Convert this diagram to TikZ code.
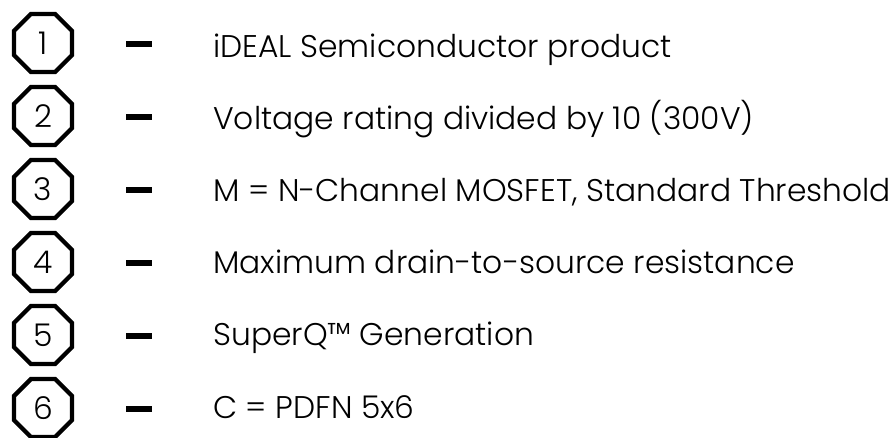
\documentclass[tikz,border=0pt]{standalone}
\usepackage{fontspec}
\setmainfont{Poppins Light}
\usetikzlibrary{shapes.geometric}
\begin{document}
\begin{tikzpicture}[x=0.75pt,y=-0.75pt,
  octa/.style={regular polygon,regular polygon sides=8,minimum size=47.1pt,inner sep=0pt,draw=black,line width=3.2pt,font=\fontsize{23.5}{27}\selectfont},
  dashbar/.style={line width=4.8pt,draw=black},
  desc/.style={anchor=base west,inner sep=0pt,font=\fontsize{23.5}{27}\selectfont}]
\useasboundingbox (0,0) rectangle (894,437);
\foreach \i/\t [count=\k from 0] in {1/{iDEAL Semiconductor product},2/{Voltage rating divided by 10 (300V)},3/{M = N-Channel MOSFET, Standard Threshold},4/{Maximum drain-to-source resistance},5/{SuperQ™ Generation},6/{C = PDFN 5x6}}{
  \node[octa] (o\i) at (43,43+73*\k) {\i};
  \coordinate (da\i) at (126,44+73*\k);
  \coordinate (db\i) at (152,44+73*\k);
  \draw[dashbar] (da\i) -- (db\i);
  \node[desc] (t\i) at (213,57+72.2*\k) {\t};
}
\end{tikzpicture}
\end{document}
